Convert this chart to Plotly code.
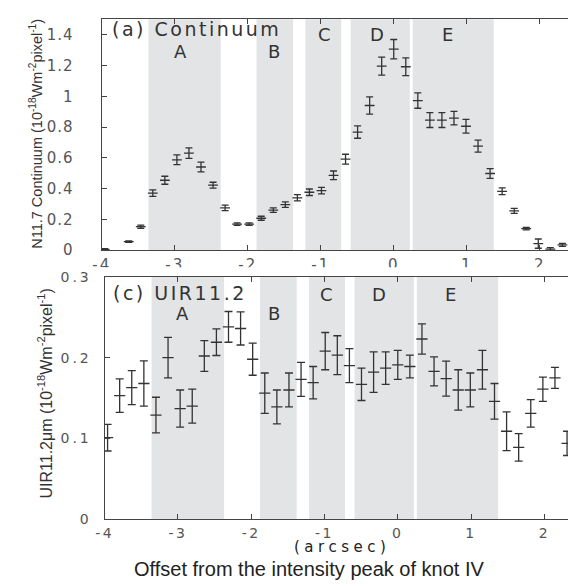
import plotly.graph_objects as go

# ---------------- data ----------------
# (a) N11.7 continuum
cont_x = [-3.96, -3.63, -3.465, -3.30, -3.135, -2.97, -2.805, -2.64, -2.475, -2.31,
          -2.145, -1.98, -1.815, -1.65, -1.485, -1.32, -1.155, -0.99, -0.825, -0.66,
          -0.495, -0.33, -0.165, 0.0, 0.165, 0.33, 0.495, 0.66, 0.825, 0.99,
          1.155, 1.32, 1.485, 1.65, 1.815, 1.98, 2.145, 2.31]
cont_y = [0.005, 0.055, 0.152, 0.37, 0.454, 0.587, 0.63, 0.54, 0.422, 0.274,
          0.169, 0.169, 0.207, 0.26, 0.295, 0.34, 0.376, 0.387, 0.486, 0.591,
          0.767, 0.94, 1.196, 1.306, 1.192, 0.972, 0.845, 0.845, 0.858, 0.805,
          0.676, 0.498, 0.382, 0.255, 0.139, 0.042, 0.006, 0.034]
cont_err = [0.005, 0.005, 0.01, 0.021, 0.026, 0.032, 0.034, 0.032, 0.019, 0.018,
            0.008, 0.008, 0.013, 0.015, 0.018, 0.02, 0.021, 0.021, 0.028, 0.032,
            0.04, 0.056, 0.058, 0.063, 0.058, 0.05, 0.048, 0.048, 0.044, 0.045,
            0.039, 0.032, 0.022, 0.016, 0.008, 0.03, 0.01, 0.01]

# (c) UIR 11.2
uir_x = [-3.96, -3.795, -3.63, -3.465, -3.30, -3.135, -2.97, -2.805, -2.64, -2.475,
         -2.31, -2.145, -1.98, -1.815, -1.65, -1.485, -1.32, -1.155, -0.99, -0.825,
         -0.66, -0.495, -0.33, -0.165, 0.0, 0.165, 0.33, 0.495, 0.66, 0.825,
         0.99, 1.155, 1.32, 1.485, 1.65, 1.815, 1.98, 2.145, 2.31]
uir_y = [0.101, 0.153, 0.163, 0.168, 0.129, 0.2, 0.137, 0.14, 0.202, 0.219,
         0.238, 0.236, 0.198, 0.156, 0.139, 0.16, 0.173, 0.169, 0.208, 0.203,
         0.19, 0.167, 0.182, 0.187, 0.191, 0.189, 0.223, 0.183, 0.174, 0.16,
         0.16, 0.185, 0.146, 0.109, 0.089, 0.131, 0.161, 0.175, 0.094]
uir_err = [0.0164, 0.0208, 0.021, 0.028, 0.022, 0.025, 0.023, 0.021, 0.019, 0.0164,
           0.019, 0.0204, 0.0198, 0.025, 0.021, 0.021, 0.021, 0.020, 0.023, 0.024,
           0.021, 0.020, 0.025, 0.020, 0.018, 0.014, 0.0186, 0.018, 0.0216, 0.025,
           0.021, 0.024, 0.022, 0.024, 0.017, 0.017, 0.015, 0.013, 0.015]

# shaded regions
region_names = ["A", "B", "C", "D", "E"]
region_start = [-3.36, -1.88, -1.21, -0.59, 0.26]
region_end = [-2.37, -1.38, -0.72, 0.22, 1.37]
# letter positions
top_label_x = [-2.92, -1.64, -0.95, -0.23, 0.74]
top_label_y = [1.29, 1.29, 1.40, 1.40, 1.40]
bot_label_x = [-2.94, -1.69, -0.97, -0.26, 0.725]
bot_label_y = [0.2545, 0.2545, 0.278, 0.278, 0.278]

top_yticks = [0, 0.2, 0.4, 0.6, 0.8, 1.0, 1.2, 1.4]
top_yticktext = ["0", "0.2", "0.4", "0.6", "0.8", "1", "1.2", "1.4"]
bot_yticks = [0, 0.1, 0.2, 0.3]
bot_yticktext = ["0", "0.1", "0.2", "0.3"]
xticks = [-4, -3, -2, -1, 0, 1, 2]
xticktext = ["-4", "-3", "-2", "-1", "0", "1", "2"]

# ---------------- figure ----------------
W, H = 568, 587
INK = "#333333"
TICKC = "#555555"
SHADE = "#e3e4e6"


def sp(t, px):
    return '<span style="letter-spacing:%spx">%s</span>' % (px, t)


fig = go.Figure()

fig.add_trace(go.Scatter(
    x=cont_x, y=cont_y, mode="markers", xaxis="x", yaxis="y",
    marker=dict(symbol="line-ew", size=7, color=INK, line=dict(width=1.3, color=INK)),
    error_y=dict(type="data", array=cont_err, color=INK, thickness=1.3, width=3.5),
    showlegend=False, hoverinfo="skip"))

fig.add_trace(go.Scatter(
    x=uir_x, y=uir_y, mode="markers", xaxis="x2", yaxis="y2",
    marker=dict(symbol="line-ew", size=8, color=INK, line=dict(width=1.3, color=INK)),
    error_y=dict(type="data", array=uir_err, color=INK, thickness=1.3, width=4),
    showlegend=False, hoverinfo="skip"))

shapes = []
for s, e in zip(region_start, region_end):
    shapes.append(dict(type="rect", xref="x", yref="y domain", x0=s, x1=e, y0=0, y1=1,
                       fillcolor=SHADE, line=dict(width=0), layer="below"))
    shapes.append(dict(type="rect", xref="x2", yref="y2 domain", x0=s, x1=e, y0=0, y1=1,
                       fillcolor=SHADE, line=dict(width=0), layer="below"))
# bottom panel covers the lower half of the upper panel's tick labels
shapes.append(dict(type="rect", xref="paper", yref="paper", x0=90 / W, x1=1,
                   y0=1 - 275.5 / H, y1=1 - 267 / H, fillcolor="white",
                   line=dict(width=0), layer="above"))

ann = []
for n, x, y in zip(region_names, top_label_x, top_label_y):
    ann.append(dict(text=n, x=x, y=y, xref="x", yref="y", showarrow=False,
                    font=dict(family="DejaVu Sans", size=18, color=INK)))
for n, x, y in zip(region_names, bot_label_x, bot_label_y):
    ann.append(dict(text=n, x=x, y=y, xref="x2", yref="y2", showarrow=False,
                    font=dict(family="DejaVu Sans", size=18, color=INK)))

ann.append(dict(text=sp("(a) Continuum", 2.5), x=-3.89, y=1.435, xref="x", yref="y",
                xanchor="left", yanchor="middle", showarrow=False,
                font=dict(family="DejaVu Sans", size=19, color=INK)))
ann.append(dict(text=sp("(c) UIR11.2", 2.5), x=-3.92, y=0.28, xref="x2", yref="y2",
                xanchor="left", yanchor="middle", showarrow=False,
                font=dict(family="DejaVu Sans", size=19, color=INK)))

ann.append(dict(text="N11.7 Continuum (10<sup>-18</sup>Wm<sup>-2</sup>pixel<sup>-1</sup>)",
                x=28 / W, y=1 - 130 / H, xref="paper", yref="paper", textangle=-90,
                showarrow=False, xanchor="center", yanchor="middle",
                font=dict(family="Liberation Sans, Arial", size=14.5, color=INK)))
ann.append(dict(text="UIR11.2μm (10<sup>-18</sup>Wm<sup>-2</sup>pixel<sup>-1</sup>)",
                x=37 / W, y=1 - 396.6 / H, xref="paper", yref="paper", textangle=-90,
                showarrow=False, xanchor="center", yanchor="middle",
                font=dict(family="Liberation Sans, Arial", size=16, color=INK)))
ann.append(dict(text=sp("(arcsec)", 4.5), x=338.5 / W, y=1 - 555.5 / H, xref="paper",
                yref="paper", showarrow=False, xanchor="center", yanchor="middle",
                font=dict(family="DejaVu Sans", size=15, color="#222222")))
ann.append(dict(text="Offset from the intensity peak of knot IV", x=305 / W, y=1 - 577.5 / H,
                xref="paper", yref="paper", showarrow=False, xanchor="center",
                yanchor="middle", font=dict(family="Liberation Sans, Arial", size=20,
                                            color="#222222")))

axis_common = dict(showline=True, linecolor="#444444", linewidth=1.2, ticks="inside",
                   ticklen=5, tickcolor="#444444", tickwidth=1.2, showgrid=False,
                   zeroline=False, fixedrange=True)

fig.update_layout(
    width=W, height=H, margin=dict(l=0, r=0, t=0, b=0),
    paper_bgcolor="white", plot_bgcolor="white",
    shapes=shapes, annotations=ann,
    xaxis=dict(domain=[94.2 / W, 1], range=[-4, 2.387], anchor="y", mirror="ticks",
               tickmode="array", tickvals=xticks, ticktext=[sp(t, 2) for t in xticktext],
               tickfont=dict(family="DejaVu Sans", size=15, color=TICKC),
               ticklabelstandoff=1, **axis_common),
    yaxis=dict(domain=[1 - 249.3 / H, 1 - 11.7 / H], range=[0, 1.5], anchor="x",
               tickmode="array", tickvals=top_yticks, ticktext=[sp(t, 1) for t in top_yticktext],
               tickfont=dict(family="DejaVu Sans", size=15, color=TICKC),
               ticklabelstandoff=24, **axis_common),
    xaxis2=dict(domain=[97.2 / W, 1], range=[-4, 2.323], anchor="y2", mirror="ticks",
                tickmode="array", tickvals=xticks, ticktext=[sp(t, 2.5) for t in xticktext],
                tickfont=dict(family="DejaVu Sans", size=14, color=TICKC),
                ticklabelstandoff=1, **axis_common),
    yaxis2=dict(domain=[1 - 526.7 / H, 1 - 276.7 / H], range=[0, 0.3], anchor="x2",
                tickmode="array", tickvals=bot_yticks, ticktext=[sp(t, 3) for t in bot_yticktext],
                tickfont=dict(family="DejaVu Sans", size=14, color=TICKC),
                ticklabelstandoff=9, **axis_common),
)

fig.write_html("out.html", config={"displayModeBar": False})
